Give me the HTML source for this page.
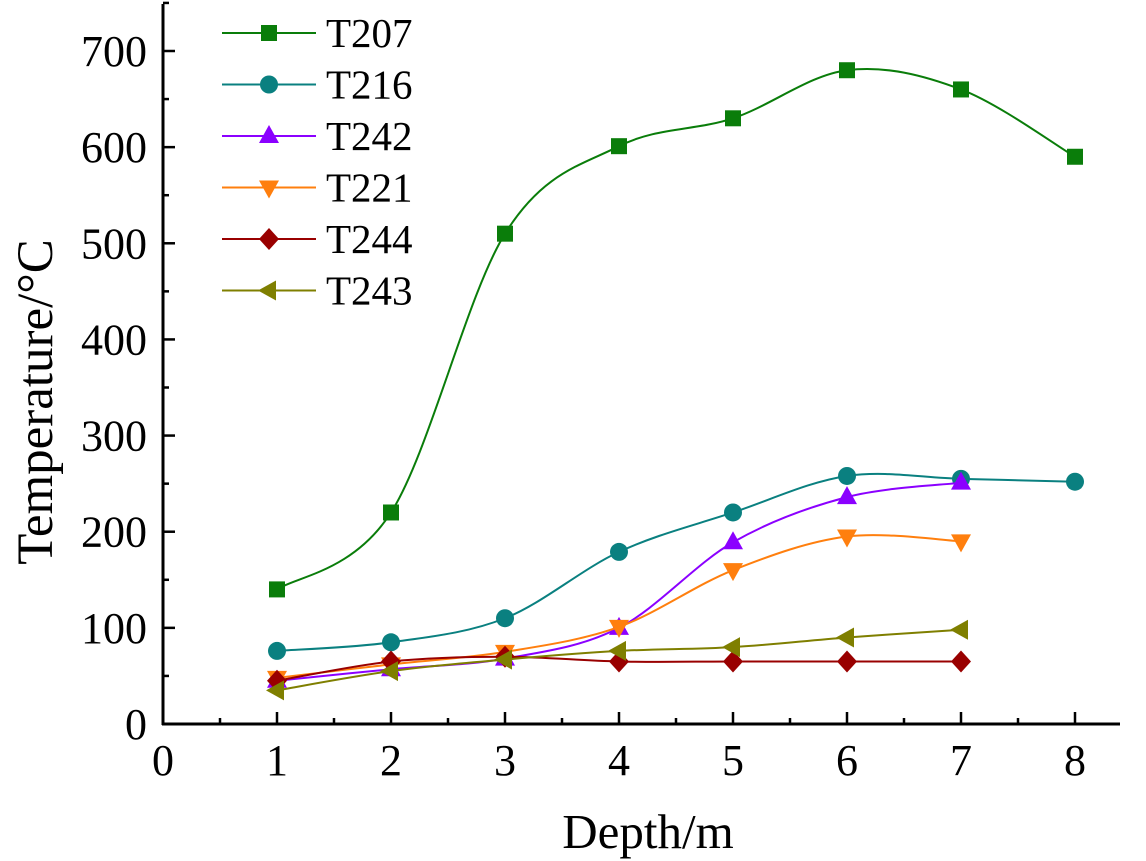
<!DOCTYPE html>
<html><head><meta charset="utf-8"><style>
html,body{margin:0;padding:0;background:#fff;}
svg{display:block;font-family:"Liberation Serif",serif;}
</style></head><body>
<svg id="chart" width="1146" height="861" viewBox="0 0 1146 861" xmlns="http://www.w3.org/2000/svg">
<g id="axes"></g><g id="series"></g><g id="legend"></g>
</svg>
<script>
const depths=[1,2,3,4,5,6,7,8];
const xTicks=[0,1,2,3,4,5,6,7,8];
const yTicks=[0,100,200,300,400,500,600,700];
const seriesNames=["T207","T216","T242","T221","T244","T243"];
const seriesColors=["#0a7d0a","#0a8080","#8b00ff","#ff7f0e","#990000","#7f7f00"];
const seriesMarkers=["square","circle","up","down","diamond","left"];
const t207=[140,220,510,601,630,680,660,590];
const t216=[76,85,110,179,220,258,255,252];
const t242=[45,57,68,100,189,236,251];
const t221=[48,62,75,101,160,195,190];
const t244=[45,65,70,65,65,65,65];
const t243=[35,55,67,76,80,90,98];
const allSeries=[t207,t216,t242,t221,t244,t243];

const NS="http://www.w3.org/2000/svg";
const X0=163,XS=114,Y0=724,YS=673/700;
function xs(v){return X0+v*XS;}
function ys(v){return Y0-v*YS;}
function mk(tag,attrs,parent){const e=document.createElementNS(NS,tag);for(const k in attrs)e.setAttribute(k,attrs[k]);parent.appendChild(e);return e;}
const axes=document.getElementById('axes'),sg=document.getElementById('series'),lg=document.getElementById('legend');

const yAxis=mk('line',{x1:X0,y1:4,x2:X0,y2:Y0+1,stroke:'#000','stroke-width':3},axes);


const xAxis=mk('line',{x1:X0-1,y1:Y0,x2:1120,y2:Y0,stroke:'#000','stroke-width':3},axes);


yTicks.forEach(v=>{
  mk('line',{x1:X0,y1:ys(v),x2:X0+12,y2:ys(v),stroke:'#000','stroke-width':2.5},axes);
  mk('line',{x1:X0,y1:ys(v+50),x2:X0+6,y2:ys(v+50),stroke:'#000','stroke-width':2.5},axes);
  const t=mk('text',{x:147,y:ys(v)+15,'font-size':44,'text-anchor':'end'},axes);t.textContent=v;
  
  
});
xTicks.forEach(v=>{
  mk('line',{x1:xs(v),y1:Y0,x2:xs(v),y2:Y0-12,stroke:'#000','stroke-width':2.5},axes);
  if(v<8)mk('line',{x1:xs(v+0.5),y1:Y0,x2:xs(v+0.5),y2:Y0-6,stroke:'#000','stroke-width':2.5},axes);
  const t=mk('text',{x:xs(v),y:775,'font-size':44,'text-anchor':'middle'},axes);t.textContent=v;
  
  
});
const xt=mk('text',{x:648,y:848,'font-size':49,'text-anchor':'middle'},axes);xt.textContent="Depth/m";


const yt=mk('text',{x:0,y:0,'font-size':51,'text-anchor':'middle',transform:'translate(52,402) rotate(-90)'},axes);yt.textContent="Temperature/\u00B0C";



function marker(type,x,y,c,parent){
  const r=9;let e;
  if(type==='square')e=mk('rect',{x:x-8,y:y-8,width:16,height:16,fill:c},parent);
  else if(type==='circle')e=mk('circle',{cx:x,cy:y,r:r,fill:c},parent);
  else if(type==='up')e=mk('polygon',{points:`${x},${y-11} ${x+10},${y+7} ${x-10},${y+7}`,fill:c},parent);
  else if(type==='down')e=mk('polygon',{points:`${x},${y+11} ${x+10},${y-7} ${x-10},${y-7}`,fill:c},parent);
  else if(type==='diamond')e=mk('polygon',{points:`${x},${y-11} ${x+10},${y} ${x},${y+11} ${x-10},${y}`,fill:c},parent);
  else e=mk('polygon',{points:`${x-11},${y} ${x+7},${y-10} ${x+7},${y+10}`,fill:c},parent);
  return e;
}
function smoothPath(pts){
  let d=`M${pts[0][0]},${pts[0][1]}`;
  for(let i=0;i<pts.length-1;i++){
    const p0=pts[i-1]||pts[i],p1=pts[i],p2=pts[i+1],p3=pts[i+2]||p2;
    const c1=[p1[0]+(p2[0]-p0[0])/6,p1[1]+(p2[1]-p0[1])/6];
    const c2=[p2[0]-(p3[0]-p1[0])/6,p2[1]-(p3[1]-p1[1])/6];
    d+=` C${c1[0]},${c1[1]} ${c2[0]},${c2[1]} ${p2[0]},${p2[1]}`;
  }
  return d;
}
allSeries.forEach((vals,si)=>{
  const g=mk('g',{},sg);
  
  
  const pts=vals.map((v,i)=>[xs(depths[i]),ys(v)]);
  mk('path',{d:smoothPath(pts),fill:'none',stroke:seriesColors[si],'stroke-width':2},g);
  pts.forEach(p=>{
    const m=marker(seriesMarkers[si],p[0],p[1],seriesColors[si],g);
    
    
  });
  const ly=33+si*51.5;
  const le=mk('g',{},lg);
  
  
  mk('line',{x1:222,y1:ly,x2:316,y2:ly,stroke:seriesColors[si],'stroke-width':2},le);
  marker(seriesMarkers[si],269,ly,seriesColors[si],le);
  const t=mk('text',{x:326,y:ly+14,'font-size':41},le);t.textContent=seriesNames[si];
});
</script>
</body></html>
